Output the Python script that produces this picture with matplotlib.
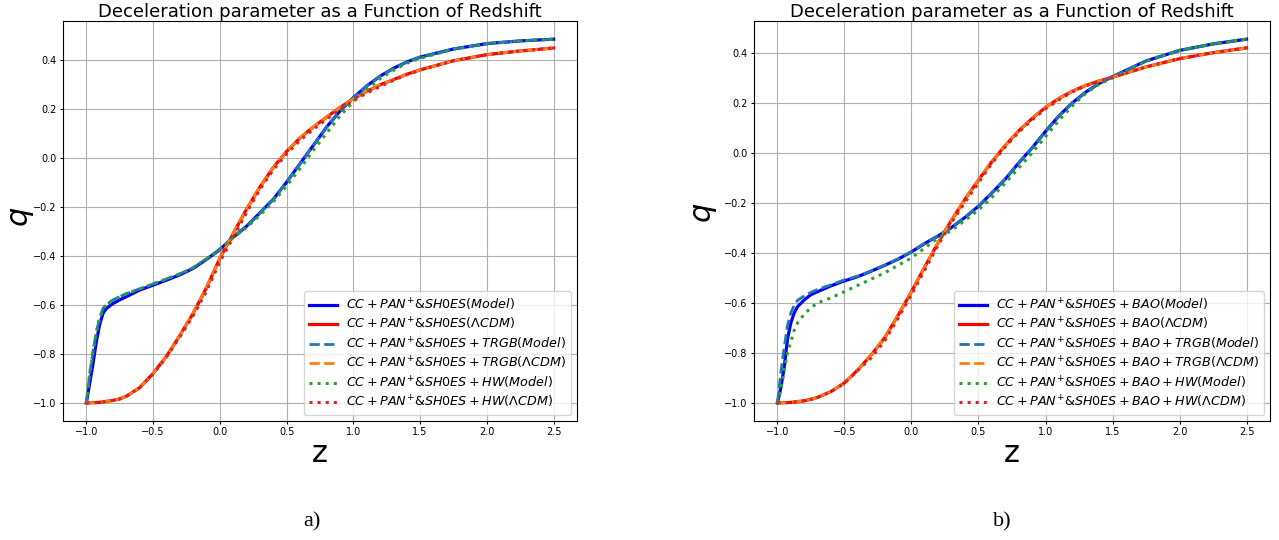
import numpy as np
import matplotlib
matplotlib.use("Agg")
import matplotlib.pyplot as plt

# redshift grid shared by all curves
z = [-1.0, -0.975, -0.95, -0.925, -0.9, -0.875, -0.85, -0.8, -0.75, -0.7,
     -0.6, -0.5, -0.4, -0.3, -0.2, -0.1, 0.0, 0.1, 0.2, 0.3,
     0.4, 0.5, 0.6, 0.7, 0.8, 0.9, 1.0, 1.1, 1.2, 1.3,
     1.4, 1.5, 1.75, 2.0, 2.25, 2.5]

# panel a)
qa_model = [-1.0, -0.92, -0.84, -0.75, -0.68, -0.635, -0.615, -0.595, -0.58, -0.567,
            -0.54, -0.52, -0.50, -0.478, -0.452, -0.415, -0.375, -0.325, -0.28, -0.225,
            -0.17, -0.10, -0.025, 0.05, 0.125, 0.19, 0.245, 0.292, 0.332, 0.364,
            0.39, 0.41, 0.443, 0.465, 0.476, 0.483]
qa_lcdm = [-1.0, -1.0, -0.9995, -0.999, -0.998, -0.996, -0.994, -0.99, -0.984, -0.973,
           -0.938, -0.88, -0.81, -0.725, -0.635, -0.53, -0.41, -0.31, -0.21, -0.12,
           -0.04, 0.025, 0.08, 0.125, 0.165, 0.205, 0.24, 0.27, 0.297, 0.318,
           0.34, 0.358, 0.395, 0.42, 0.435, 0.447]
qa_trgb_model = [-1.0, -0.88, -0.79, -0.71, -0.655, -0.615, -0.60, -0.58, -0.567, -0.555,
                 -0.535, -0.515, -0.495, -0.474, -0.449, -0.413, -0.373, -0.324, -0.28, -0.225,
                 -0.17, -0.10, -0.025, 0.05, 0.125, 0.19, 0.245, 0.292, 0.332, 0.364,
                 0.39, 0.41, 0.443, 0.465, 0.476, 0.483]
qa_trgb_lcdm = qa_lcdm
qa_hw_model = [-1.0, -0.88, -0.79, -0.71, -0.655, -0.615, -0.60, -0.58, -0.567, -0.555,
               -0.535, -0.515, -0.495, -0.474, -0.449, -0.413, -0.373, -0.326, -0.285, -0.235,
               -0.18, -0.115, -0.045, 0.03, 0.10, 0.17, 0.228, 0.278, 0.322, 0.356,
               0.385, 0.405, 0.442, 0.464, 0.476, 0.483]
qa_hw_lcdm = [-1.0, -1.0, -0.9995, -0.999, -0.998, -0.996, -0.994, -0.99, -0.984, -0.973,
              -0.938, -0.882, -0.814, -0.732, -0.645, -0.545, -0.425, -0.325, -0.225, -0.13,
              -0.05, 0.015, 0.07, 0.115, 0.157, 0.197, 0.233, 0.263, 0.29, 0.315,
              0.338, 0.357, 0.395, 0.42, 0.435, 0.447]

# panel b)
qb_model = [-1.0, -0.94, -0.86, -0.745, -0.68, -0.64, -0.615, -0.588, -0.567, -0.555,
            -0.532, -0.512, -0.495, -0.473, -0.45, -0.425, -0.396, -0.362, -0.332, -0.298,
            -0.258, -0.213, -0.16, -0.105, -0.04, 0.02, 0.086, 0.148, 0.2, 0.243,
            0.278, 0.305, 0.368, 0.41, 0.436, 0.455]
qb_lcdm = [-1.0, -1.0, -0.9995, -0.999, -0.998, -0.997, -0.995, -0.992, -0.986, -0.978,
           -0.955, -0.92, -0.868, -0.808, -0.74, -0.65, -0.555, -0.455, -0.358, -0.268,
           -0.185, -0.108, -0.035, 0.03, 0.088, 0.138, 0.182, 0.218, 0.247, 0.27,
           0.288, 0.303, 0.344, 0.377, 0.401, 0.42]
qb_trgb_model = [-1.0, -0.88, -0.78, -0.69, -0.64, -0.61, -0.59, -0.572, -0.558, -0.546,
                 -0.528, -0.508, -0.493, -0.472, -0.449, -0.424, -0.395, -0.361, -0.331, -0.297,
                 -0.257, -0.212, -0.159, -0.104, -0.04, 0.02, 0.086, 0.148, 0.2, 0.243,
                 0.278, 0.305, 0.368, 0.41, 0.436, 0.455]
qb_trgb_lcdm = qb_lcdm
qb_hw_model = [-1.0, -0.95, -0.87, -0.80, -0.755, -0.71, -0.68, -0.645, -0.62, -0.60,
               -0.58, -0.555, -0.53, -0.505, -0.48, -0.45, -0.42, -0.38, -0.34, -0.31,
               -0.27, -0.228, -0.178, -0.12, -0.06, 0.0, 0.065, 0.13, 0.188, 0.238,
               0.275, 0.30, 0.366, 0.409, 0.436, 0.455]
qb_hw_lcdm = [-1.0, -1.0, -0.9995, -0.999, -0.998, -0.997, -0.995, -0.992, -0.986, -0.978,
              -0.955, -0.921, -0.87, -0.82, -0.752, -0.662, -0.567, -0.468, -0.368, -0.278,
              -0.197, -0.12, -0.042, 0.024, 0.083, 0.132, 0.176, 0.212, 0.244, 0.268,
              0.287, 0.302, 0.344, 0.377, 0.401, 0.42]

labels_a = [r'$CC+PAN^{+}$&$SH0ES(Model)$',
            r'$CC+PAN^{+}$&$SH0ES(\Lambda CDM)$',
            r'$CC+PAN^{+}$&$SH0ES+TRGB(Model)$',
            r'$CC+PAN^{+}$&$SH0ES+TRGB(\Lambda CDM)$',
            r'$CC+PAN^{+}$&$SH0ES+HW(Model)$',
            r'$CC+PAN^{+}$&$SH0ES+HW(\Lambda CDM)$']
labels_b = [r'$CC+PAN^{+}$&$SH0ES+BAO(Model)$',
            r'$CC+PAN^{+}$&$SH0ES+BAO(\Lambda CDM)$',
            r'$CC+PAN^{+}$&$SH0ES+BAO+TRGB(Model)$',
            r'$CC+PAN^{+}$&$SH0ES+BAO+TRGB(\Lambda CDM)$',
            r'$CC+PAN^{+}$&$SH0ES+BAO+HW(Model)$',
            r'$CC+PAN^{+}$&$SH0ES+BAO+HW(\Lambda CDM)$']

styles = [dict(color='blue', ls='-', lw=2.3),
          dict(color='red', ls='-', lw=2.3),
          dict(color='tab:blue', ls='--', lw=2.0),
          dict(color='tab:orange', ls='--', lw=2.0),
          dict(color='tab:green', ls=':', lw=2.2),
          dict(color='tab:red', ls=':', lw=2.2)]

fig = plt.figure(figsize=(12.79, 5.4), dpi=100)
ax1 = fig.add_axes([63 / 1279, 119 / 540, 514 / 1279, 400 / 540])
ax2 = fig.add_axes([754 / 1279, 119 / 540, 516 / 1279, 400 / 540])

panels = [(ax1, [qa_model, qa_lcdm, qa_trgb_model, qa_trgb_lcdm, qa_hw_model, qa_hw_lcdm], labels_a),
          (ax2, [qb_model, qb_lcdm, qb_trgb_model, qb_trgb_lcdm, qb_hw_model, qb_hw_lcdm], labels_b)]

for ax, series, labels in panels:
    for q, lab, st in zip(series, labels, styles):
        ax.plot(z, q, label=lab, **st)
    ax.set_title('Deceleration parameter as a Function of Redshift', fontsize=13, pad=3)
    ax.set_xlabel('z', fontsize=22, va='baseline')
    ax.xaxis.set_label_coords(0.5, -41 / 400)
    ax.set_ylabel(r'$q$', fontsize=22)
    ax.grid(True, color='#b0b0b0', lw=0.8)
    ax.set_xticks([-1.0, -0.5, 0.0, 0.5, 1.0, 1.5, 2.0, 2.5])
    ax.set_yticks([-1.0, -0.8, -0.6, -0.4, -0.2, 0.0, 0.2, 0.4])
    ax.tick_params(labelsize=7, length=2.5, pad=2)
    ax.legend(loc='lower right', fontsize=9.2, borderaxespad=0.45,
              labelspacing=0.25, handlelength=2.2, handletextpad=0.7)

ax1.yaxis.set_label_coords(-27 / 514, 0.51)
ax2.yaxis.set_label_coords(-35 / 516, 0.52)

fig.text(312 / 1279, 14 / 540, 'a)', ha='center', va='baseline',
         family='Liberation Serif', fontsize=16)
fig.text(1002 / 1279, 14 / 540, 'b)', ha='center', va='baseline',
         family='Liberation Serif', fontsize=16)

fig.savefig('out.png', dpi=100)
